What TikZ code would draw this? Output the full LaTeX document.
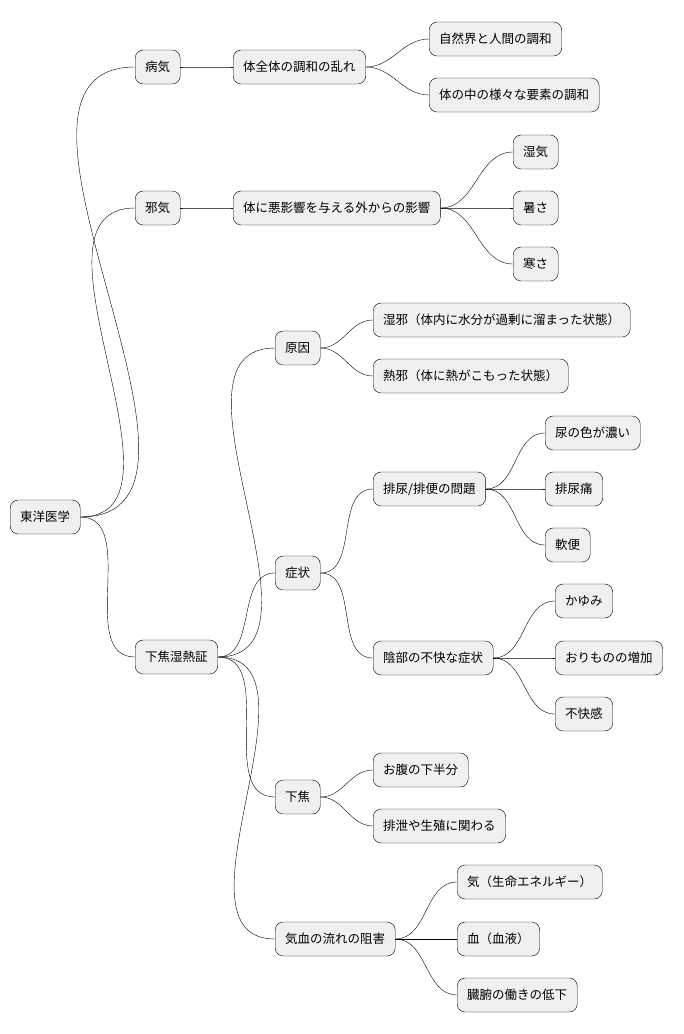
\documentclass[tikz,border=0pt]{standalone}
\usepackage{fontspec}
\setmainfont{Noto Sans CJK JP}
\usetikzlibrary{positioning}

\begin{document}
\begin{tikzpicture}[x=1pt,y=-1pt,
  topic/.style={
    rectangle,
    rounded corners=8pt,
    draw=black,
    fill=black!6,
    anchor=west,
    minimum height=34pt,
    inner xsep=10pt,
    font=\fontsize{12.5pt}{14pt}\selectfont
  },
  link/.style={
    draw=black,
    thin
  }
]
  \useasboundingbox (0,0) rectangle (684,1034);

  % Root
  \node[topic] (root) at (10,517) {東洋医学};

  % Level 1
  \node[topic] (byoki) at (135,67) {病気};
  \node[topic] (jaki) at (135,208) {邪気};
  \node[topic] (shitsu) at (135,657) {下焦湿熱証};

  % Level 2
  \node[topic] (chowa) at (233,67) {体全体の調和の乱れ};
  \node[topic] (gaibu) at (233,208) {体に悪影響を与える外からの影響};
  \node[topic] (genin) at (275,348) {原因};
  \node[topic] (shojo) at (275,573) {症状};
  \node[topic] (gesho) at (275,797) {下焦};
  \node[topic] (sogai) at (275,939) {気血の流れの阻害};

  % Level 3
  \node[topic] (shizen) at (429,39) {自然界と人間の調和};
  \node[topic] (yoso) at (429,95) {体の中の様々な要素の調和};
  \node[topic] (shikke) at (513,152) {湿気};
  \node[topic] (atsusa) at (513,208) {暑さ};
  \node[topic] (samusa) at (513,264) {寒さ};
  \node[topic] (shitsuja) at (373,320) {湿邪（体内に水分が過剰に溜まった状態）};
  \node[topic] (netsuja) at (373,376) {熱邪（体に熱がこもった状態）};
  \node[topic] (hainyo) at (373,489) {排尿/排便の問題};
  \node[topic] (inbu) at (373,658) {陰部の不快な症状};
  \node[topic] (onaka) at (373,770) {お腹の下半分};
  \node[topic] (haisetsu) at (373,826) {排泄や生殖に関わる};
  \node[topic] (ki) at (457,882) {気（生命エネルギー）};
  \node[topic] (ketsu) at (457,939) {血（血液）};
  \node[topic] (zofu) at (457,995) {臓腑の働きの低下};

  % Level 4
  \node[topic] (iro) at (545,433) {尿の色が濃い};
  \node[topic] (itami) at (545,489) {排尿痛};
  \node[topic] (nanben) at (545,545) {軟便};
  \node[topic] (kayumi) at (555,601) {かゆみ};
  \node[topic] (orimono) at (555,658) {おりものの増加};
  \node[topic] (fukai) at (555,714) {不快感};

  % Connectors
  \foreach \a/\b in {root/byoki, root/jaki, root/shitsu,
      byoki/chowa, jaki/gaibu,
      shitsu/genin, shitsu/shojo, shitsu/gesho, shitsu/sogai,
      chowa/shizen, chowa/yoso,
      gaibu/shikke, gaibu/atsusa, gaibu/samusa,
      genin/shitsuja, genin/netsuja,
      shojo/hainyo, shojo/inbu,
      gesho/onaka, gesho/haisetsu,
      sogai/ki, sogai/ketsu, sogai/zofu,
      hainyo/iro, hainyo/itami, hainyo/nanben,
      inbu/kayumi, inbu/orimono, inbu/fukai}
    \draw[link] (\a.east) to[out=0,in=180] (\b.west);

\end{tikzpicture}
\end{document}
